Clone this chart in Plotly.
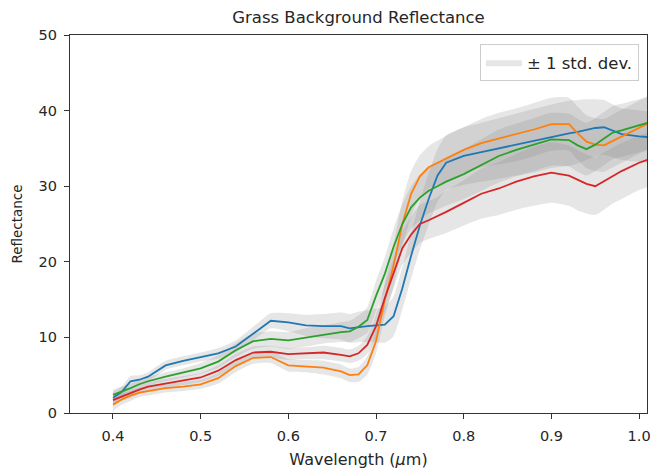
import plotly.graph_objects as go

wavelength = [0.40, 0.41, 0.42, 0.43, 0.44, 0.46, 0.48, 0.50, 0.52, 0.54, 0.56, 0.58,
              0.60, 0.62, 0.64, 0.66, 0.67, 0.68, 0.69, 0.70, 0.71, 0.72, 0.73, 0.74,
              0.75, 0.76, 0.77, 0.78, 0.80, 0.82, 0.84, 0.86, 0.88, 0.90, 0.92, 0.93,
              0.94, 0.95, 0.96, 0.97, 0.98, 1.00, 1.01]

blue = [2.0, 2.8, 4.2, 4.4, 4.8, 6.3, 6.9, 7.4, 7.9, 8.8, 10.5, 12.2,
        12.0, 11.6, 11.5, 11.5, 11.2, 11.4, 11.5, 11.6, 11.7, 12.8, 16.5, 20.8,
        24.8, 28.3, 31.4, 33.1, 34.0, 34.5, 35.0, 35.5, 36.0, 36.6, 37.0, 37.2,
        37.5, 37.7, 37.8, 37.3, 36.9, 36.6, 36.5]
orange = [1.1, 1.8, 2.3, 2.7, 2.9, 3.3, 3.5, 3.8, 4.6, 6.2, 7.3, 7.4,
          6.3, 6.2, 6.0, 5.5, 5.0, 5.1, 6.3, 9.5, 15.0, 19.5, 25.0, 29.0,
          31.3, 32.5, 33.1, 33.7, 34.8, 35.7, 36.3, 36.8, 37.5, 38.2, 38.2, 37.0,
          35.9, 35.5, 35.4, 36.0, 36.6, 37.8, 38.3]
green = [2.4, 2.8, 3.3, 3.8, 4.2, 4.8, 5.3, 5.9, 6.8, 8.3, 9.5, 9.8,
         9.6, 10.0, 10.4, 10.7, 10.8, 11.4, 12.3, 15.5, 18.4, 22.0, 25.0, 27.2,
         28.5, 29.4, 30.0, 30.6, 31.6, 32.8, 34.0, 34.8, 35.5, 36.2, 36.1, 35.4,
         34.9, 35.5, 36.3, 37.1, 37.4, 38.0, 38.4]
red = [1.7, 2.2, 2.6, 3.1, 3.5, 3.9, 4.3, 4.7, 5.6, 7.0, 8.0, 8.1,
       7.8, 7.9, 8.0, 7.7, 7.5, 7.9, 9.0, 11.5, 15.2, 18.5, 21.8, 23.6,
       25.0, 25.5, 26.0, 26.6, 27.8, 29.0, 29.7, 30.6, 31.3, 31.8, 31.4, 30.8,
       30.3, 30.0, 30.7, 31.4, 32.0, 33.1, 33.5]

blue_std = [0.8, 0.7, 0.7, 0.6, 0.6, 0.6, 0.6, 0.6, 0.7, 0.8, 0.9, 1.0,
            1.2, 1.4, 1.6, 1.8, 1.9, 2.0, 2.1, 2.2, 2.4, 2.6, 2.8, 3.0,
            3.2, 3.4, 3.5, 3.6, 3.8, 3.9, 4.0, 4.1, 4.2, 4.2, 4.3, 4.2,
            4.0, 3.8, 3.6, 3.5, 3.4, 3.4, 3.4]
orange_std = [0.8, 0.7, 0.7, 0.6, 0.6, 0.6, 0.6, 0.6, 0.7, 0.8, 0.8, 0.8,
              0.8, 0.8, 0.9, 0.9, 0.9, 1.0, 1.2, 1.6, 2.2, 2.8, 3.0, 3.0,
              2.8, 2.8, 2.9, 3.0, 3.0, 3.2, 3.4, 3.5, 3.5, 3.5, 3.5, 3.5,
              3.5, 3.5, 3.5, 3.5, 3.5, 3.5, 3.5]
green_std = [0.7, 0.7, 0.6, 0.6, 0.6, 0.6, 0.6, 0.7, 0.8, 0.9, 1.0, 1.0,
             1.1, 1.2, 1.2, 1.3, 1.4, 1.5, 1.7, 2.0, 2.2, 2.4, 2.6, 2.8,
             3.0, 3.0, 3.1, 3.2, 3.3, 3.4, 3.5, 3.5, 3.5, 3.5, 3.5, 3.5,
             3.5, 3.5, 3.5, 3.5, 3.5, 3.5, 3.5]
red_std = [0.7, 0.6, 0.6, 0.6, 0.6, 0.6, 0.6, 0.6, 0.7, 0.8, 0.8, 0.8,
           0.8, 0.8, 0.9, 0.9, 0.9, 1.0, 1.2, 1.5, 1.8, 2.0, 2.2, 2.4,
           2.5, 2.5, 2.6, 2.8, 3.0, 3.3, 3.5, 3.7, 3.9, 4.0, 4.0, 4.0,
           3.9, 3.8, 3.8, 3.7, 3.7, 3.6, 3.6]

series = [
    ("blue", blue, blue_std, "#1f77b4"),
    ("orange", orange, orange_std, "#ff7f0e"),
    ("green", green, green_std, "#2ca02c"),
    ("red", red, red_std, "#d62728"),
]

x_ticks = [0.4, 0.5, 0.6, 0.7, 0.8, 0.9, 1.0]
x_tick_labels = ["0.4", "0.5", "0.6", "0.7", "0.8", "0.9", "1.0"]
y_ticks = [0, 10, 20, 30, 40, 50]

FONT = "DejaVu Sans"
fig = go.Figure()

band_fill = "rgba(128,128,128,0.2)"
for i, (name, vals, sd, col) in enumerate(series):
    lower = [v - s for v, s in zip(vals, sd)]
    upper = [v + s for v, s in zip(vals, sd)]
    fig.add_trace(go.Scatter(x=wavelength, y=lower, mode="lines", line_shape="spline",
                             line=dict(width=0, smoothing=0.6), showlegend=False,
                             hoverinfo="skip"))
    fig.add_trace(go.Scatter(x=wavelength, y=upper, mode="lines", fill="tonexty",
                             line_shape="spline",
                             fillcolor=band_fill, line=dict(width=0, smoothing=0.6),
                             name="± 1 std. dev.", showlegend=(i == 0),
                             hoverinfo="skip"))

for name, vals, sd, col in series:
    fig.add_trace(go.Scatter(x=wavelength, y=vals, mode="lines",
                             line=dict(color=col, width=1.8), showlegend=False,
                             name=name))

axis_common = dict(showgrid=False, zeroline=False, showline=True, linecolor="#333333",
                   linewidth=1.2, mirror=True, ticks="outside", ticklen=5,
                   tickcolor="#333333", ticklabeloverflow="allow",
                   tickfont=dict(family=FONT, size=14.5, color="#262626"))

fig.update_layout(
    width=653, height=473,
    margin=dict(l=70, r=2, t=35, b=60),
    paper_bgcolor="white", plot_bgcolor="white",
    title=dict(text="Grass Background Reflectance", x=0.5, xref="paper",
               y=1 - 17 / 473, yref="container", yanchor="middle", xanchor="center",
               font=dict(family=FONT, size=16.5, color="#262626")),
    xaxis=dict(range=[0.351, 1.009], tickvals=x_ticks, ticktext=x_tick_labels,
               ticklabelstandoff=4,
               title=dict(text="Wavelength (<i>μ</i>m)", standoff=11,
                          font=dict(family=FONT, size=16, color="#262626")),
               **axis_common),
    yaxis=dict(range=[0, 50], tickvals=y_ticks, ticklabelstandoff=4,
               title=dict(text="Reflectance", standoff=12,
                          font=dict(family=FONT, size=13.5, color="#262626")),
               **axis_common),
    legend=dict(x=0.986, y=0.976, xanchor="right", yanchor="top", itemwidth=36,
                bgcolor="rgba(255,255,255,0.8)", bordercolor="#cccccc", borderwidth=1,
                font=dict(family=FONT, size=16.5, color="#262626")),
)

fig.write_html("out.html", config={"displayModeBar": False},
               post_script="document.body.style.margin='0';document.body.style.overflow='hidden';")
